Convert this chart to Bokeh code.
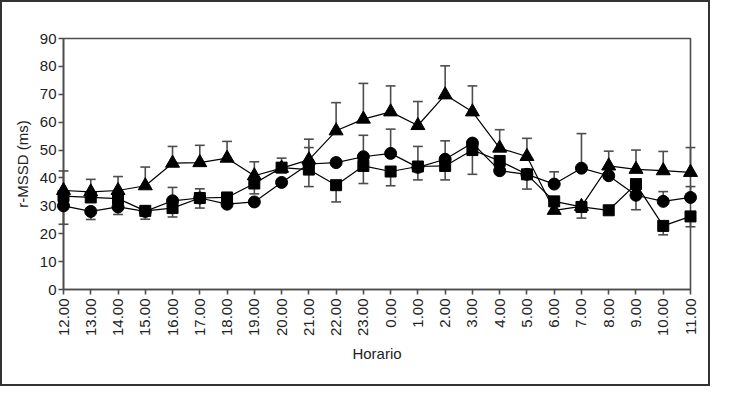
import math
from bokeh.plotting import figure
from bokeh.models import FixedTicker, ColumnDataSource, Range1d
from bokeh.embed import file_html
from bokeh.resources import INLINE

hours = ["12.00", "13.00", "14.00", "15.00", "16.00", "17.00", "18.00", "19.00",
         "20.00", "21.00", "22.00", "23.00", "0.00", "1.00", "2.00", "3.00",
         "4.00", "5.00", "6.00", "7.00", "8.00", "9.00", "10.00", "11.00"]

tri = [35.5, 35.0, 35.5, 37.2, 45.3, 45.5, 47.1, 40.8, 43.5, 46.5, 56.9, 61.1,
       63.7, 58.8, 69.8, 63.7, 50.7, 47.7, 28.4, 29.8, 44.3, 43.1, 42.6, 42.0]
tri_up = [7.0, 4.5, 5.0, 6.7, 6.0, 6.2, 6.0, 5.0, 3.6, 7.4, 10.1, 12.8,
          9.3, 8.6, 10.4, 9.3, 6.6, 6.5, 0, 0, 5.3, 6.9, 6.9, 8.9]

circ = [30.0, 28.0, 29.6, 28.0, 31.8, 32.8, 30.6, 31.4, 38.4, 45.0, 45.5, 47.6,
        48.8, 43.8, 46.7, 52.5, 42.6, 41.3, 37.8, 43.5, 40.8, 33.8, 31.6, 33.0]
circ_up = [0, 0, 0, 0, 4.8, 3.3, 0, 0, 0, 5.9, 0, 7.7,
           8.7, 7.5, 6.6, 0, 0, 0, 4.4, 12.4, 0, 0, 3.5, 3.9]
circ_dn = [6.6, 2.9, 2.7, 2.8, 0, 0, 0, 0, 0, 0, 0, 0,
           0, 0, 0, 0, 0, 0, 0, 0, 0, 5.2, 0, 0]

sq = [33.5, 33.0, 32.6, 28.2, 29.2, 32.8, 33.0, 38.0, 43.7, 43.0, 37.4, 44.3,
      42.3, 44.1, 44.3, 50.0, 46.1, 41.3, 31.6, 29.6, 28.4, 37.8, 22.8, 26.2]
sq_dn = [0, 0, 0, 0, 3.2, 3.6, 0, 3.7, 0, 6.1, 6.0, 6.3,
         5.1, 4.8, 5.0, 8.7, 0, 5.3, 0, 4.0, 0, 0, 3.2, 3.7]

y_ticks = list(range(0, 91, 10))

FONT = "Liberation Sans"
AX = "#4d4d4d"
CAP = 0.18

xs = list(range(len(hours)))

p = figure(width=710, height=386, output_backend="svg", toolbar_location=None,
           x_range=Range1d(0, len(hours) - 1), y_range=Range1d(y_ticks[0], y_ticks[-1]),
           min_border_left=61, min_border_right=22, min_border_top=36, min_border_bottom=99)
p.styles = {"border": "2px solid #333"}
p.xgrid.visible = False
p.ygrid.visible = False
p.outline_line_color = AX
p.outline_line_width = 1.6

# error bars
seg = dict(x=[], y0=[], y1=[])
caps = dict(x0=[], x1=[], y=[])
def add_err(vals, errs, sign):
    for i, (v, e) in enumerate(zip(vals, errs)):
        if e > 0:
            seg["x"].append(i); seg["y0"].append(v); seg["y1"].append(v + sign * e)
            caps["x0"].append(i - CAP); caps["x1"].append(i + CAP); caps["y"].append(v + sign * e)
add_err(tri, tri_up, 1)
add_err(circ, circ_up, 1)
add_err(circ, circ_dn, -1)
add_err(sq, sq_dn, -1)

p.segment(x0="x", y0="y0", x1="x", y1="y1", source=ColumnDataSource(seg),
          line_color=AX, line_width=1.6, level="annotation")
p.segment(x0="x0", y0="y", x1="x1", y1="y", source=ColumnDataSource(caps),
          line_color=AX, line_width=1.6, level="annotation")

for vals in (tri, circ, sq):
    p.line(xs, vals, line_color="black", line_width=1.2, level="annotation")

p.scatter(xs, tri, marker="triangle", size=14, color="black", level="annotation")
p.scatter(xs, circ, marker="circle", size=12, color="black", level="annotation")
p.scatter(xs, sq, marker="square", size=11, color="black", level="annotation")

for ax in (p.xaxis[0], p.yaxis[0]):
    ax.axis_line_color = AX
    ax.axis_line_width = 1.6
    ax.major_tick_line_color = AX
    ax.major_tick_line_width = 1.6
    ax.major_tick_in = 0
    ax.major_tick_out = 5
    ax.minor_tick_line_color = None
    ax.major_label_text_font = FONT
    ax.major_label_text_font_size = "15px"
    ax.major_label_text_color = "#222"
    ax.axis_label_text_font = FONT
    ax.axis_label_text_font_size = "15px"
    ax.axis_label_text_font_style = "normal"
    ax.axis_label_text_color = "#222"

p.yaxis.ticker = FixedTicker(ticks=y_ticks)
p.yaxis.major_label_standoff = 2
p.yaxis.axis_label = "r-MSSD (ms)"
p.yaxis.axis_label_standoff = 6

p.xaxis.ticker = FixedTicker(ticks=xs)
p.xaxis.major_label_overrides = {i: h for i, h in enumerate(hours)}
p.xaxis.major_label_orientation = math.pi / 2
p.xaxis.major_label_standoff = 4
p.xaxis.axis_label = "Horario"
p.xaxis.axis_label_standoff = 6

open("out.html", "w").write(file_html(p, INLINE))
